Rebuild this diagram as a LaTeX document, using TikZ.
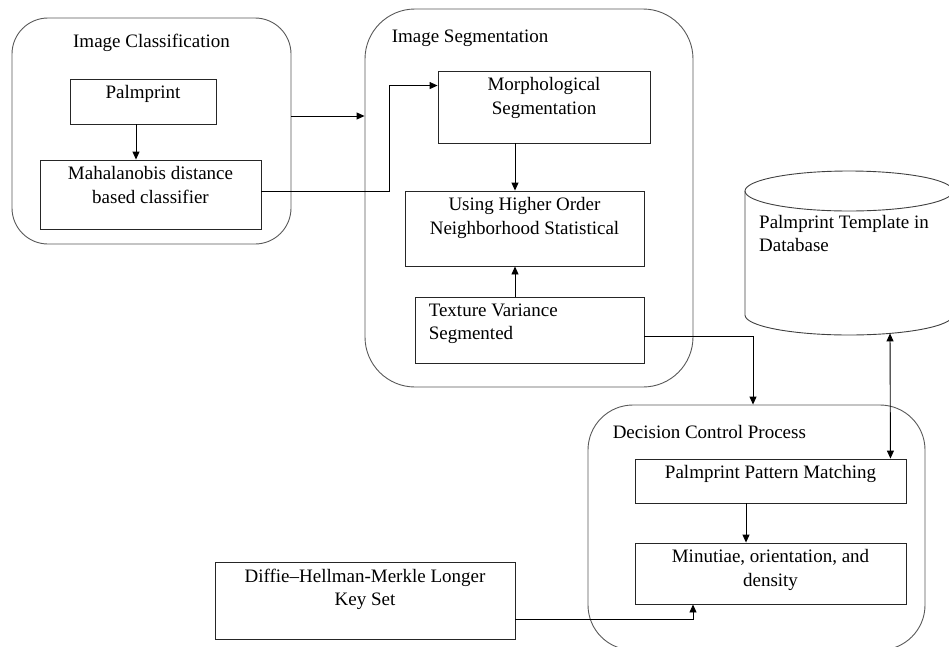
\documentclass[tikz,border=0pt]{standalone}
\usepackage{fontspec}
\setmainfont{Liberation Serif}
\usetikzlibrary{arrows.meta, positioning}
\tikzstyle{group} = [rectangle, draw=black!65, line width=0.9pt]
\tikzstyle{block} = [rectangle, draw=black!85, line width=0.9pt]
\tikzstyle{store} = [draw=black!75, line width=0.9pt]
\tikzstyle{txt} = [align=center, inner sep=4pt, font=\fontsize{19}{23.5}\selectfont]
\tikzstyle{arrow} = [line width=0.9pt,->,>={Triangle[length=8pt,width=7pt]}]

\begin{document}
\begin{tikzpicture}[x=1pt, y=-1pt]
					\useasboundingbox (0,0) rectangle (949,646);
					% groups
					\node[group, rounded corners=36pt, minimum width=279pt, minimum height=226pt] (cls) at (151.5,131) {};
					\node[group, rounded corners=50pt, minimum width=328pt, minimum height=378pt] (seg) at (529,198) {};
					\node[group, rounded corners=45pt, minimum width=337pt, minimum height=245pt] (dec) at (756.5,527.5) {};
					\node[txt, below=12.5pt of cls.north] (cls-t) {Image Classification};
					\node[txt, below right=17pt and 23pt of seg.north west] (seg-t) {Image Segmentation};
					\node[txt, below right=17pt and 21pt of dec.north west] (dec-t) {Decision Control Process};
					% boxes
					\node[block, minimum width=146pt, minimum height=45pt] (palm) at (143,101.5) {};
					\node[block, minimum width=221pt, minimum height=69pt] (maha) at (150.5,194.5) {};
					\node[block, minimum width=212pt, minimum height=72pt] (morph) at (544,107) {};
					\node[block, minimum width=239pt, minimum height=75pt] (using) at (524.5,228.5) {};
					\node[block, minimum width=229pt, minimum height=66pt] (tex) at (529.5,330) {};
					\node[block, minimum width=271pt, minimum height=44pt] (ppm) at (770.5,481) {};
					\node[block, minimum width=271pt, minimum height=61pt] (min) at (770.5,573.5) {};
					\node[block, minimum width=300pt, minimum height=77pt] (dh) at (365,600.5) {};
					\node[txt, below=3pt of palm.north] (palm-t) {Palmprint};
					\node[txt, below=3pt of maha.north] (maha-t) {Mahalanobis distance\\based classifier};
					\node[txt, below=3pt of morph.north] (morph-t) {Morphological\\Segmentation};
					\node[txt, below=3pt of using.north] (using-t) {Using Higher Order\\Neighborhood Statistical};
					\node[txt, align=left, below right=3pt and 10pt of tex.north west] (tex-t) {Texture Variance\\Segmented};
					\node[txt, below=3pt of ppm.north] (ppm-t) {Palmprint Pattern Matching};
					\node[txt, below=3pt of min.north] (min-t) {Minutiae, orientation, and\\density};
					\node[txt, below=3pt of dh.north] (dh-t) {Diffie–Hellman-Merkle Longer\\Key Set};
					% database
					\draw[store] (745,191) -- (745,315) arc[start angle=180, end angle=360, x radius=104pt, y radius=20pt] -- (953,191);
					\draw[store] (849,191) ellipse [x radius=104pt, y radius=20pt];
					\coordinate (db-b) at (890,333.4);
					\node[txt, align=left, anchor=north west] (db-t) at (755,211) {Palmprint Template in\\Database};
					% connectors
					\draw[arrow] ([xshift=-7pt]palm.south) -- ([xshift=-7pt]palm.south |- maha.north);
					\draw[arrow] ([yshift=15pt]cls.east) -- ([yshift=15pt]cls.east -| seg.west);
					\draw[arrow] ([yshift=3.5pt]maha.east) -- ++(128,0) |- ([yshift=-15pt]morph.north west);
					\draw[arrow] ([xshift=-29pt]morph.south) -- ([xshift=-29pt]morph.south |- using.north);
					\draw[arrow] ([xshift=-14.5pt]tex.north) -- ([xshift=-14.5pt]tex.north |- using.south);
					\draw[arrow] ([yshift=-6pt]tex.east) -| ([xshift=-3.5pt]dec.north);
					\draw[arrow] ([xshift=-24.5pt]ppm.south) -- ([xshift=-24.5pt]ppm.south |- min.north);
					\draw[arrow] ([yshift=-18.5pt]dh.east) -| ([xshift=-77.5pt]min.south);
					\draw[arrow,<->] ([xshift=-16pt]ppm.north east) -- (db-b);
					\end{tikzpicture}
\end{document}
